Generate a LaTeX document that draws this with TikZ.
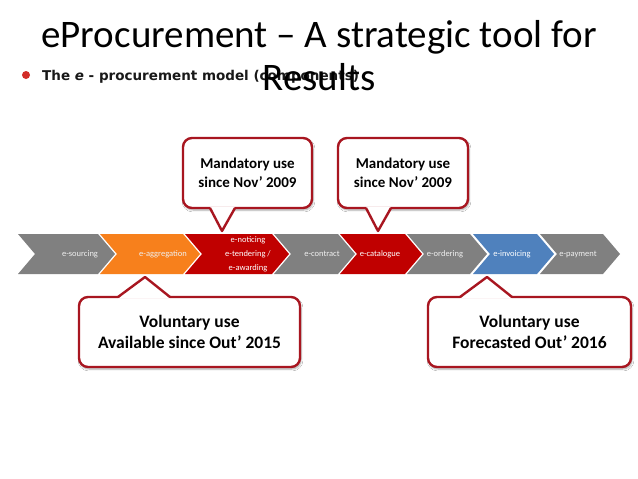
\documentclass[tikz,border=0pt]{standalone}
\usepackage{fontspec}
\setmainfont{Carlito}
\newfontfamily\versans{DejaVu Sans}
\usetikzlibrary{shadows.blur,calc}
\definecolor{chgray}{RGB}{128,128,128}
\definecolor{chorange}{RGB}{247,128,28}
\definecolor{chred}{RGB}{192,0,0}
\definecolor{chblue}{RGB}{79,129,189}
\definecolor{callred}{RGB}{168,22,32}
\definecolor{bulletred}{RGB}{210,45,40}
\newcommand\mychev[3]{%
  \fill[#3] (#1,234) -- (#2,234) -- (#2+17,254) -- (#2,274) -- (#1,274) -- (#1+17,254) -- cycle;}
\begin{document}
\begin{tikzpicture}[x=1pt,y=-1pt,
  chevtext/.style={text=white, font=\fontsize{8.5}{14}\selectfont, align=center, inner sep=0pt},
  greytext/.style={chevtext, text=white!88!gray},
  callout/.style={draw=callred, line width=2.4pt, fill=white, rounded corners=9pt,
    align=center, inner sep=0pt, minimum height=70pt,
    blur shadow={shadow xshift=1pt, shadow yshift=-2pt, shadow blur steps=6, shadow opacity=35}},
  smalltext/.style={font=\bfseries\fontsize{15}{19}\selectfont},
  bigtext/.style={font=\bfseries\fontsize{17.5}{21}\selectfont},
  ptrline/.style={draw=callred, line width=2.4pt, line join=round},
  titletext/.style={anchor=base, inner sep=0pt, font=\fontsize{39}{43}\selectfont}
]
\useasboundingbox (0,0) rectangle (638,479);
\fill[white] (0,0) rectangle (638,479);

% title and bullet
\node[titletext] (t1) at (319,47) {eProcurement – A strategic tool for};
\node[circle, fill=bulletred, minimum size=8pt, inner sep=0pt] (dot) at (26,75) {};
\node[anchor=base west, inner sep=0pt, font=\versans\bfseries\fontsize{13.5}{16}\selectfont, text=black!90]
  (bul) at (42,80) {The \textit{e} - procurement model (components)};
\node[titletext] (t2) at (319,90) {Results};

% chevrons
\mychev{18}{98}{chgray}
\mychev{100}{183}{chorange}
\mychev{185}{272}{chred}
\mychev{274}{338}{chgray}
\mychev{340}{405}{chred}
\mychev{407}{470}{chgray}
\mychev{473}{537}{chblue}
\mychev{540}{603}{chgray}

\node[greytext] (c1) at (80,254) {e-sourcing};
\node[greytext] (c2) at (163,254) {e-aggregation};
\node[chevtext] (c3) at (248,254) {e-noticing\\e-tendering /\\e-awarding};
\node[greytext] (c4) at (322,254) {e-contract};
\node[chevtext] (c5) at (380,254) {e-catalogue};
\node[greytext] (c6) at (445,254) {e-ordering};
\node[chevtext] (c7) at (512,254) {e-invoicing};
\node[greytext] (c8) at (578,254) {e-payment};

% top callouts
\node[callout, smalltext, minimum width=129pt] (m1) at (247.5,173) {Mandatory use\\since Nov’ 2009};
\coordinate (m1a) at (210,208);
\coordinate (m1b) at (235,208);
\coordinate (m1tip) at (222,231);
\fill[white] ($(m1a)+(0,-1.5)$) -- ($(m1b)+(0,-1.5)$) -- (m1tip) -- cycle;
\draw[ptrline] (m1a) -- (m1tip) -- (m1b);

\node[callout, smalltext, minimum width=130pt] (m2) at (403,173) {Mandatory use\\since Nov’ 2009};
\coordinate (m2a) at (366,208);
\coordinate (m2b) at (391,208);
\coordinate (m2tip) at (378,231);
\fill[white] ($(m2a)+(0,-1.5)$) -- ($(m2b)+(0,-1.5)$) -- (m2tip) -- cycle;
\draw[ptrline] (m2a) -- (m2tip) -- (m2b);

% bottom callouts
\node[callout, bigtext, minimum width=221pt] (v1) at (189.5,332) {Voluntary use\\Available since Out’ 2015};
\coordinate (v1a) at (118,297);
\coordinate (v1b) at (170,297);
\coordinate (v1tip) at (145,277);
\fill[white] ($(v1a)+(0,1.5)$) -- ($(v1b)+(0,1.5)$) -- (v1tip) -- cycle;
\draw[ptrline] (v1a) -- (v1tip) -- (v1b);

\node[callout, bigtext, minimum width=203pt] (v2) at (529.5,332) {Voluntary use\\Forecasted Out’ 2016};
\coordinate (v2a) at (460,297);
\coordinate (v2b) at (512,297);
\coordinate (v2tip) at (487,277);
\fill[white] ($(v2a)+(0,1.5)$) -- ($(v2b)+(0,1.5)$) -- (v2tip) -- cycle;
\draw[ptrline] (v2a) -- (v2tip) -- (v2b);
\end{tikzpicture}
\end{document}
